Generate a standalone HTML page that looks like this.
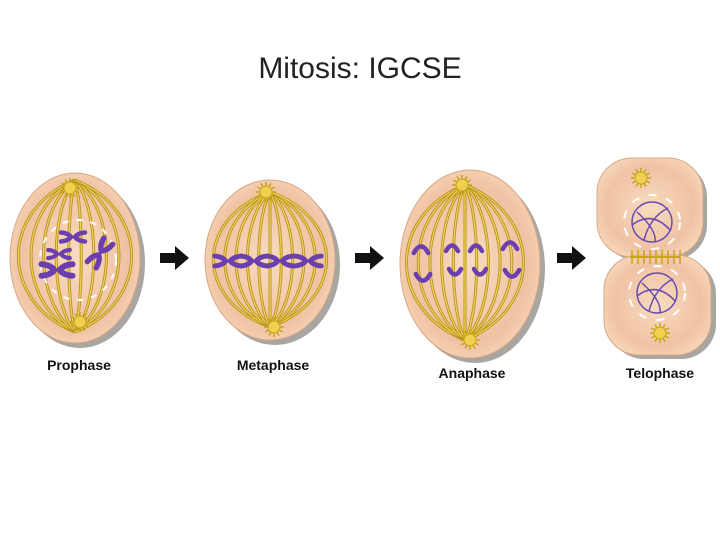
<!DOCTYPE html>
<html><head><meta charset="utf-8"><style>
html,body{margin:0;padding:0;background:#fff;width:720px;height:540px;overflow:hidden}
svg{display:block}
</style></head><body>
<svg id="s" width="720" height="540" viewBox="0 0 720 540" xmlns="http://www.w3.org/2000/svg">
<defs>
<radialGradient id="cg" cx="50%" cy="50%" r="55%">
<stop offset="0" stop-color="#f8dcc0"/><stop offset="0.75" stop-color="#f0c2a4"/><stop offset="1" stop-color="#f6d4b6"/>
</radialGradient>
</defs>
<text x="360" y="78" text-anchor="middle" font-family="'Liberation Sans',sans-serif" font-size="30" fill="#222">Mitosis: IGCSE</text>
<g id="cells"></g>
<g font-family="'Liberation Sans',sans-serif" font-weight="bold" font-size="14" fill="#111" text-anchor="middle">
<text x="79" y="370">Prophase</text>
<text x="273" y="370">Metaphase</text>
<text x="472" y="378">Anaphase</text>
<text x="660" y="378">Telophase</text>
</g>
</svg>
<script>
const NS='http://www.w3.org/2000/svg';
const root=document.getElementById('cells');
function mk(t,a,p){const e=document.createElementNS(NS,t);for(const k in a)e.setAttribute(k,a[k]);(p||root).appendChild(e);return e;}
function cell(name,cx,cy,rx,ry){
  const g=mk('g',{});
  
  
  mk('ellipse',{cx:cx+5,cy:cy+5,rx:rx,ry:ry,fill:'#a9a5a0'},g);
  mk('ellipse',{cx:cx,cy:cy,rx:rx,ry:ry,fill:'url(#cg)',stroke:'#d9a886','stroke-width':1},g);
  return g;
}
function fibers(g,cx,top,bot,w,n){
  for(let i=0;i<n;i++){
    const f=(i/(n-1))*2-1; const dx=f*w;
    const d=`M${cx},${top} C${cx+dx*1.3},${top+(bot-top)*0.2} ${cx+dx*1.3},${top+(bot-top)*0.8} ${cx},${bot}`;
    mk('path',{d:d,fill:'none',stroke:'#b8931f','stroke-width':3},g);
    mk('path',{d:d,fill:'none',stroke:'#f0d35a','stroke-width':1.2},g);
  }
}
function centro(g,x,y){
  for(let a=0;a<12;a++){const r=a*Math.PI/6;mk('line',{x1:x+Math.cos(r)*5,y1:y+Math.sin(r)*5,x2:x+Math.cos(r)*10,y2:y+Math.sin(r)*10,stroke:'#c9a31c','stroke-width':1.5},g);}
  mk('circle',{cx:x,cy:y,r:6,fill:'#f0d050',stroke:'#c9a31c'},g);
}
function xchrom(g,x,y,s,rot){
  const c=mk('g',{transform:`translate(${x},${y}) rotate(${rot||0}) scale(${s})`},g);
  ['M-12,-4.5 Q-5,-4 -2,0 Q-5,4 -12,4.5','M12,-4.5 Q5,-4 2,0 Q5,4 12,4.5'].forEach(d=>mk('path',{d:d,fill:'none',stroke:'#6b3fb0','stroke-width':4.5,'stroke-linecap':'round','stroke-linejoin':'round'},c));
}
function vchrom(g,x,y,up,s){
  s=s||1;
  const d=up?`M${x-6*s},${y+5*s} Q${x},${y-6*s} ${x+6*s},${y+5*s}`:`M${x-6*s},${y-5*s} Q${x},${y+6*s} ${x+6*s},${y-5*s}`;
  mk('path',{d:d,fill:'none',stroke:'#6b3fb0','stroke-width':4.5,'stroke-linecap':'round','stroke-linejoin':'round'},g);
}
// Prophase
let g=cell('prophase-cell',75,258,65,85);
fibers(g,75,180,332,58,10);
mk('ellipse',{cx:78,cy:260,rx:38,ry:40,fill:'none',stroke:'#fff','stroke-width':2,'stroke-dasharray':'6 8'},g);
centro(g,70,188);centro(g,80,322);
xchrom(g,73,237,1,0);xchrom(g,59,254,0.9,0);xchrom(g,57,270,1.3,0);xchrom(g,100,253,1.2,-55);
// Metaphase
g=cell('metaphase-cell',270,260,65,80);
fibers(g,270,192,327,58,11);
centro(g,266,192);centro(g,274,327);
[228,254,280,308].forEach(x=>xchrom(g,x,261,1.1,0));
// Anaphase
g=cell('anaphase-cell',470,264,70,94);
fibers(g,465,185,340,60,11);
centro(g,462,185);centro(g,470,340);
vchrom(g,421,247,true,1.2);vchrom(g,452,246,true);vchrom(g,476,246,true);vchrom(g,510,243,true,1.2);
vchrom(g,423,280,false,1.2);vchrom(g,455,274,false);vchrom(g,480,274,false);vchrom(g,512,276,false,1.2);
// Telophase
g=mk('g',{});


mk('rect',{x:601,y:162,width:106,height:98,rx:35,fill:'#a9a5a0'},g);
mk('rect',{x:609,y:259,width:107,height:100,rx:35,fill:'#a9a5a0'},g);
mk('rect',{x:597,y:158,width:106,height:99,rx:35,fill:'url(#cg)',stroke:'#d9a886'},g);
mk('rect',{x:604,y:255,width:107,height:100,rx:35,fill:'url(#cg)',stroke:'#d9a886'},g);
centro(g,641,178);centro(g,660,333);
mk('line',{x1:630,y1:257,x2:680,y2:257,stroke:'#c9a31c','stroke-width':2},g);
for(let i=0;i<9;i++)mk('line',{x1:632+i*6,y1:250,x2:632+i*6,y2:264,stroke:'#c9a31c','stroke-width':1.5},g);
[[652,222],[657,293]].forEach(([x,y])=>{
  mk('ellipse',{cx:x,cy:y,rx:28,ry:27,fill:'none',stroke:'#fff','stroke-width':2,'stroke-dasharray':'8 10'},g);
  mk('circle',{cx:x,cy:y,r:20,fill:'none',stroke:'#6a4ab0','stroke-width':1.5},g);
  mk('path',{d:`M${x-20},${y+3} Q${x},${y-12} ${x+18},${y+8} M${x-8},${y+18} Q${x-2},${y-5} ${x+16},${y-14} M${x-15},${y-10} Q${x+5},${y+8} ${x+3},${y+20}`,fill:'none',stroke:'#6a4ab0','stroke-width':1.5},g);
});
// Arrows
[[160,258],[355,258],[557,258]].forEach((p,i)=>{
  const a=mk('path',{d:`M${p[0]},${p[1]-5} h15 v-7 l14,12 l-14,12 v-7 h-15 z`,fill:'#111'});
  
  
});
</script>
</body></html>
